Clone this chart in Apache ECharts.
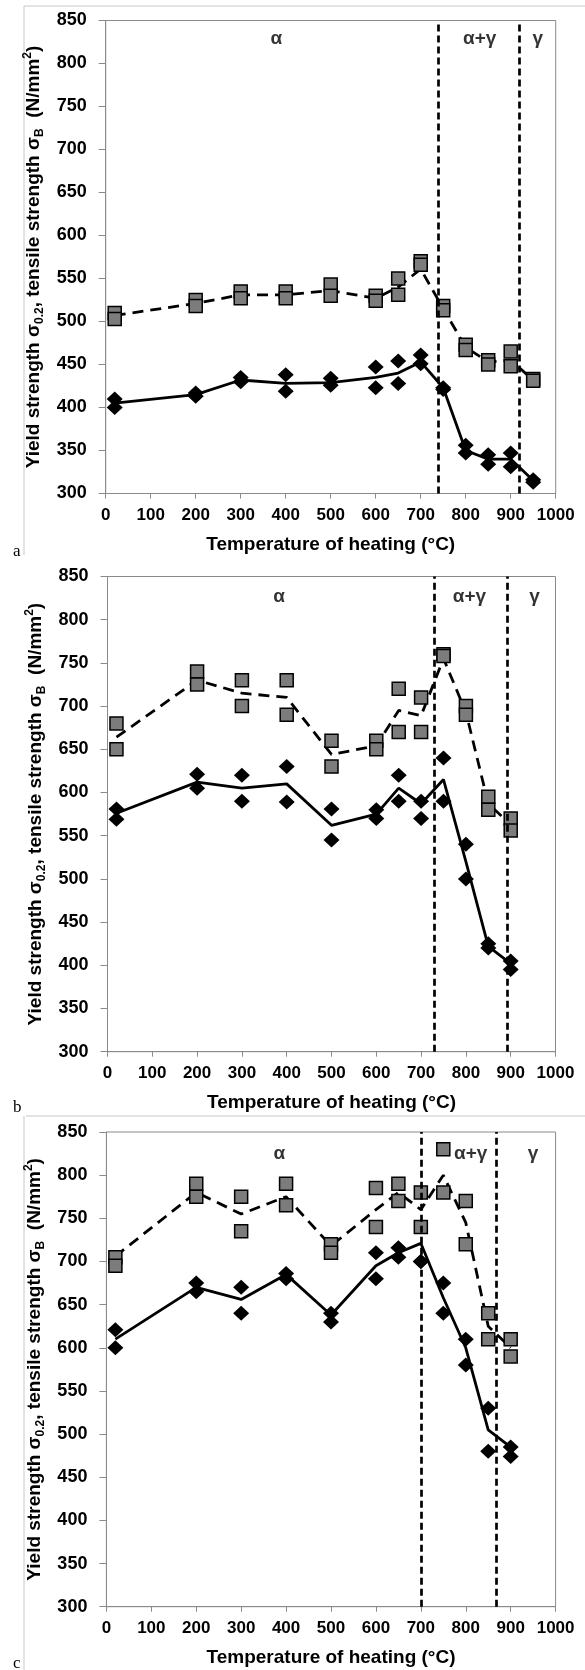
<!DOCTYPE html>
<html>
<head>
<meta charset="utf-8">
<script src="https://cdn.jsdelivr.net/npm/echarts@6/dist/echarts.min.js"></script>
<style>
html,body{margin:0;padding:0;background:#fff;}
#chart{width:585px;height:1670px;}
</style>
</head>
<body>
<div id="chart"></div>
<script>
// ---------- DATA ----------
const xTicks = [0,100,200,300,400,500,600,700,800,900,1000];
const yTicks = [300,350,400,450,500,550,600,650,700,750,800,850];

// Panel a
const tempsA      = [20,200,300,400,500,600,650,700,750,800,850,900,950];
const tensileA1   = [510,525,535,535,543,530,550,570,518,473,455,465,433];
const tensileA2   = [503,518,527,527,530,524,531,566,513,467,450,448,431];
const tensileAvgA = [507,521,531,531,536,527,540,561,515,470,453,455,432];
const yieldA1     = [410,417,435,438,434,447,454,461,423,356,345,347,316];
const yieldA2     = [400,413,430,419,426,423,428,451,421,347,334,331,313];
const yieldAvgA   = [405,415,432,428,429,435,440,453,423,350,340,340,315];
const boundsA     = [740,920];

// Panel b
const tempsB      = [20,200,300,400,500,600,650,700,750,800,850,900];
const tensileB1   = [680,740,730,730,660,660,720,710,760,700,595,570];
const tensileB2   = [650,725,700,690,630,650,670,670,758,690,580,556];
const tensileAvgB = [664,730,715,710,644,654,695,689,755,693,587,563];
const yieldB1     = [581,621,620,630,581,580,620,590,640,540,425,405];
const yieldB2     = [569,605,590,589,545,570,590,570,590,500,420,395];
const yieldAvgB   = [576,612,605,610,562,575,605,587,615,520,422,402];
const boundsB     = [730,892];

// Panel c
const tempsC      = [20,200,300,400,500,600,650,700,750,800,850,900];
const tensileC1   = [705,790,775,790,720,785,790,780,830,770,640,610];
const tensileC2   = [695,775,735,765,710,740,770,740,780,720,610,590];
const tensileAvgC = [706,780,755,775,718,760,780,760,800,745,625,600];
const yieldC1     = [621,675,670,686,640,710,716,700,675,610,530,485];
const yieldC2     = [600,665,640,680,630,680,705,700,640,580,480,474];
const yieldAvgC   = [610,670,656,685,638,695,710,721,658,600,505,485];
const boundsC     = [700,867];

// Phase labels: [temperature, strength, text]
const phaseA = [[379,829,'α'],[831,829,'α+γ'],[960,829,'γ']];
const phaseB = [[383,827,'α'],[808,827,'α+γ'],[953,827,'γ']];
const phaseC = [[385,825,'α'],[811,825,'α+γ'],[950,825,'γ']];

// ---------- CHART ----------
const FONT = '"Liberation Sans", Arial, sans-serif';
const chart = echarts.init(document.getElementById('chart'), null, {renderer:'canvas'});

const grids = [
  {left:105.7, top:20.5, width:450, height:473},
  {left:107.5, top:576.5, width:448, height:475.2},
  {left:106.4, top:1132, width:449.2, height:474.7}
];

function pairs(xs, ys){ return xs.map((x,i)=>[x, ys[i]]); }

const panels = [
  {temps:tempsA, t1:tensileA1, t2:tensileA2, tAvg:tensileAvgA, y1:yieldA1, y2:yieldA2, yAvg:yieldAvgA, bounds:boundsA, phase:phaseA},
  {temps:tempsB, t1:tensileB1, t2:tensileB2, tAvg:tensileAvgB, y1:yieldB1, y2:yieldB2, yAvg:yieldAvgB, bounds:boundsB, phase:phaseB},
  {temps:tempsC, t1:tensileC1, t2:tensileC2, tAvg:tensileAvgC, y1:yieldC1, y2:yieldC2, yAvg:yieldAvgC, bounds:boundsC, phase:phaseC}
];

const axisColor = '#8a8a8a';
const xAxes = [], yAxes = [], series = [];
panels.forEach((p, k) => {
  xAxes.push({
    gridIndex:k, type:'value', min:0, max:1000, interval:100,
    name:'Temperature of heating (°C)', nameLocation:'middle', nameGap:42,
    nameTextStyle:{fontFamily:FONT, fontWeight:'bold', fontSize:19, color:'#000'},
    axisLine:{show:true, onZero:false, lineStyle:{color:axisColor, width:1}},
    axisTick:{show:true, length:5, lineStyle:{color:axisColor}},
    axisLabel:{fontFamily:FONT, fontWeight:'bold', fontSize:17, color:'#000', margin:13,
      formatter: v => xTicks.includes(v) ? String(v) : ''},
    splitLine:{show:false}
  });
  yAxes.push({
    gridIndex:k, type:'value', min:300, max:850, interval:50,
    name:'Yield strength σ{sub|0.2}, tensile strength σ{sub|B}  (N/mm{sup|2})',
    nameLocation:'middle', nameGap:57, nameRotate:90,
    nameTextStyle:{fontFamily:FONT, fontWeight:'bold', fontSize:19, color:'#000', lineHeight:24,
      rich:{
        sub:{fontFamily:FONT, fontWeight:'bold', fontSize:12, color:'#000', verticalAlign:'bottom', lineHeight:24},
        sup:{fontFamily:FONT, fontWeight:'bold', fontSize:12, color:'#000', verticalAlign:'top', lineHeight:24}
      }},
    axisLine:{show:true, onZero:false, lineStyle:{color:axisColor, width:1}},
    axisTick:{show:true, length:7, lineStyle:{color:axisColor}},
    axisLabel:{fontFamily:FONT, fontWeight:'bold', fontSize:18, color:'#000', margin:19,
      formatter: v => yTicks.includes(v) ? String(v) : ''},
    splitLine:{show:false}
  });
  // mean lines
  series.push({
    type:'line', xAxisIndex:k, yAxisIndex:k, data:pairs(p.temps, p.tAvg),
    symbol:'none', z:2, lineStyle:{color:'#000', width:2.8, type:[11,7]}, silent:true
  });
  series.push({
    type:'line', xAxisIndex:k, yAxisIndex:k, data:pairs(p.temps, p.yAvg),
    symbol:'none', z:2, lineStyle:{color:'#000', width:2.8}, silent:true
  });
  // tensile squares
  [p.t1, p.t2].forEach(arr => series.push({
    type:'scatter', xAxisIndex:k, yAxisIndex:k, data:pairs(p.temps, arr),
    symbol:'rect', symbolSize:13, z:4,
    itemStyle:{color:'#7c7c7c', borderColor:'#000', borderWidth:1.5, opacity:1}
  }));
  // yield diamonds
  [p.y1, p.y2].forEach(arr => series.push({
    type:'scatter', xAxisIndex:k, yAxisIndex:k, data:pairs(p.temps, arr),
    symbol:'diamond', symbolSize:[16,15], z:4,
    itemStyle:{color:'#000', opacity:1}
  }));
  // phase boundaries
  series.push({
    type:'line', xAxisIndex:k, yAxisIndex:k, data:[], z:6,
    markLine:{silent:true, symbol:['none','none'], label:{show:false},
      lineStyle:{color:'#000', width:2.7, type:[7,4], opacity:1},
      data:p.bounds.map(b => ({xAxis:b}))}
  });
  // phase labels
  series.push({
    type:'scatter', xAxisIndex:k, yAxisIndex:k, data:p.phase, z:7,
    symbolSize:1, itemStyle:{color:'rgba(0,0,0,0)'}, silent:true,
    label:{show:true, position:'inside', formatter: q => q.data[2],
      fontFamily:FONT, fontWeight:'bold', fontSize:19, color:'#000'}
  });
});

const frameColor = '#c8c8c8';
chart.setOption({
  animation:false,
  backgroundColor:'#fff',
  grid: grids.map(g => Object.assign({show:true, borderColor:axisColor, borderWidth:1, backgroundColor:'transparent'}, g)),
  xAxis: xAxes,
  yAxis: yAxes,
  series: series,
  graphic: [
    {type:'line', shape:{x1:24, y1:6, x2:585, y2:6}, style:{stroke:frameColor, lineWidth:1}},
    {type:'line', shape:{x1:24, y1:6, x2:24, y2:555}, style:{stroke:frameColor, lineWidth:1}},
    {type:'line', shape:{x1:26, y1:1116, x2:585, y2:1116}, style:{stroke:frameColor, lineWidth:1}},
    {type:'line', shape:{x1:24, y1:1116, x2:24, y2:1670}, style:{stroke:frameColor, lineWidth:1}},
    {type:'text', x:13, y:543, style:{text:'a', font:'17px "Liberation Serif", serif', fill:'#000'}},
    {type:'text', x:13, y:1099, style:{text:'b', font:'17px "Liberation Serif", serif', fill:'#000'}},
    {type:'text', x:13, y:1655, style:{text:'c', font:'17px "Liberation Serif", serif', fill:'#000'}}
  ]
});
</script>
</body>
</html>
